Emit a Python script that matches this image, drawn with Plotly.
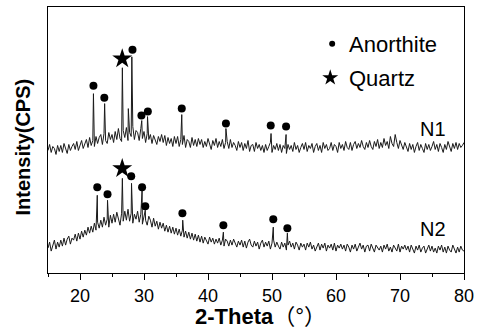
import plotly.graph_objects as go

# sampling grid: 15.00 .. 80.00 step 0.25
X_START, X_STEP = 15.0, 0.25

n1_base = [123,129,121,127,125,119,128,122,
           128,121,130,124,120,129,123,127,
           130,124,132,123,128,133,125,129,
           134,126,136,128,133,127,137,130,
           136,139,129,140,133,130,141,134,
           139,131,142,134,145,135,132,143,
           136,146,133,141,137,147,134,143,
           141,133,145,135,142,131,140,134,
           139,130,138,133,129,137,132,139,
           131,138,128,136,130,135,127,137,
           130,137,127,134,129,138,126,134,
           132,126,136,128,134,127,135,129,
           134,126,132,127,135,129,124,133,
           128,135,126,132,127,134,125,131,
           132,125,134,126,131,128,123,132,
           126,131,123,130,125,133,122,128,
           129,122,131,125,129,123,128,121,
           129,123,127,131,121,128,124,130,
           123,129,121,128,125,120,129,124,
           128,122,131,124,128,121,126,130,
           124,131,122,128,125,130,121,127,
           130,123,128,121,131,125,129,123,
           125,131,123,129,127,121,131,125,
           129,123,132,126,124,131,123,129,
           132,125,130,126,133,127,124,131,
           126,133,127,124,132,127,134,125,
           131,126,135,128,132,125,137,130,
           127,139,131,125,133,128,124,131,
           126,122,130,124,129,121,127,131,
           123,129,125,121,130,124,129,123,
           127,132,124,129,122,130,126,121,
           129,124,132,126,122,130,125,131,
           124,130,126,128,131]

n2_base = [25,31,22,29,33,24,31,26,
           33,27,35,28,34,37,29,35,
           33,39,32,40,34,42,36,43,
           38,46,40,47,41,50,43,51,
           45,53,46,56,48,54,46,58,
           50,59,51,61,53,48,60,52,
           62,53,64,52,60,50,59,54,
           62,51,59,49,58,53,48,57,
           53,46,55,47,52,44,51,45,
           50,42,48,41,47,40,46,39,
           45,38,44,37,43,36,42,35,
           41,34,40,33,39,32,38,31,
           37,30,36,32,29,36,31,35,
           29,34,30,35,28,33,27,34,
           32,27,33,28,34,29,26,32,
           28,33,26,32,25,31,34,28,
           26,32,27,31,24,30,33,26,
           31,27,32,24,30,33,26,31,
           27,24,31,26,30,23,28,32,
           26,30,24,31,28,23,30,26,
           29,23,30,26,31,24,28,22,
           26,30,23,29,25,30,22,28,
           25,29,23,30,22,28,25,29,
           24,28,22,29,26,21,28,24,
           29,22,26,30,24,28,21,27,
           28,22,29,24,21,28,26,23,
           27,21,28,24,29,22,26,21,
           28,24,22,29,21,27,24,28,
           23,27,21,28,24,20,27,23,
           28,21,25,27,20,25,28,22,
           27,21,25,20,27,23,28,21,
           26,20,27,23,21,28,23,20,
           26,21,27,23,22]

n1_peak_x = [22.1, 23.85, 26.62, 27.55, 28.1, 29.65, 30.55, 35.9, 42.8, 49.85, 52.2]
n1_peak_y = [180, 170, 206, 165, 217, 153, 157, 159, 145, 140, 139]
n2_peak_x = [22.7, 24.3, 26.62, 28.05, 29.7, 30.2, 36.05, 42.4, 50.2, 52.4]
n2_peak_y = [78, 73, 95, 90, 83, 63, 53, 41, 46, 40]

anor_x = [22.1, 23.8, 28.2, 29.6, 30.6, 35.9, 42.8, 49.8, 52.2,
          22.7, 24.3, 28.0, 29.7, 30.2, 36.0, 42.4, 50.2, 52.4]
anor_y = [188, 176, 224, 158, 162, 165, 150, 148, 147,
          86, 79, 97, 86, 67, 60, 48, 54, 45]
quartz_x = [26.6, 26.6]
quartz_y = [215, 105]

legend_labels = ["Anorthite", "Quartz"]
sample_labels = ["N1", "N2"]
x_ticks = [20, 30, 40, 50, 60, 70, 80]


def build(base, px, py):
    pts = [(X_START + X_STEP * i, v) for i, v in enumerate(base)]
    pts += list(zip(px, py))
    pts.sort(key=lambda p: p[0])
    return [p[0] for p in pts], [p[1] for p in pts]


fig = go.Figure()
for base, px, py in [(n1_base, n1_peak_x, n1_peak_y), (n2_base, n2_peak_x, n2_peak_y)]:
    xs, ys = build(base, px, py)
    fig.add_trace(go.Scatter(x=xs, y=ys, mode="lines",
                             line=dict(color="#1a1a1a", width=1.0), showlegend=False))

fig.add_trace(go.Scatter(x=anor_x, y=anor_y, mode="markers",
                         marker=dict(symbol="circle", size=8, color="black"), showlegend=False))
fig.add_trace(go.Scatter(x=quartz_x, y=quartz_y, mode="markers",
                         marker=dict(symbol="star", size=15, color="black"), showlegend=False))
# legend symbols
fig.add_trace(go.Scatter(x=[59.4], y=[230], mode="markers",
                         marker=dict(symbol="circle", size=6, color="black"), showlegend=False))
fig.add_trace(go.Scatter(x=[59.1], y=[196], mode="markers",
                         marker=dict(symbol="star", size=12, color="black"), showlegend=False))

font = "Arial, Liberation Sans, sans-serif"
ann = [
    dict(x=61.7, y=229, text=legend_labels[0], xanchor="left", yanchor="middle", showarrow=False,
         font=dict(size=22, family=font, color="black")),
    dict(x=61.7, y=195, text=legend_labels[1], xanchor="left", yanchor="middle", showarrow=False,
         font=dict(size=22, family=font, color="black")),
    dict(x=75.2, y=145, text=sample_labels[0], xanchor="center", yanchor="middle", showarrow=False,
         font=dict(size=20, family=font, color="black")),
    dict(x=75.2, y=44, text=sample_labels[1], xanchor="center", yanchor="middle", showarrow=False,
         font=dict(size=20, family=font, color="black")),
    dict(xref="paper", yref="paper", x=0.511, y=-0.165, text="<b>2-Theta</b>（°）",
         xanchor="center", yanchor="middle", showarrow=False,
         font=dict(size=22, family=font + ", Noto Sans CJK SC", color="black")),
    dict(xref="paper", yref="paper", x=-0.06, y=0.472, text="<b>Intensity(CPS)</b>", textangle=-90,
         xanchor="center", yanchor="middle", showarrow=False,
         font=dict(size=20, family=font, color="black")),
]

fig.update_layout(
    width=480, height=329,
    margin=dict(l=48, r=13, t=6, b=56),
    paper_bgcolor="white", plot_bgcolor="white",
    annotations=ann,
    xaxis=dict(range=[15, 80], tickvals=x_ticks, ticks="outside", ticklen=6, tickwidth=1,
               tickcolor="black", showline=True, linecolor="black", linewidth=1.2, mirror=True,
               showgrid=False, zeroline=False,
               tickfont=dict(size=18, family=font, color="black"),
               minor=dict(dtick=5, tick0=0, ticks="outside", ticklen=3, tickcolor="black")),
    yaxis=dict(range=[0, 267], showticklabels=False, ticks="", showline=True, linecolor="black",
               linewidth=1.2, mirror=True, showgrid=False, zeroline=False),
)

fig.write_html("out.html", config={"displayModeBar": False},
               post_script="document.body.style.margin='0';")
